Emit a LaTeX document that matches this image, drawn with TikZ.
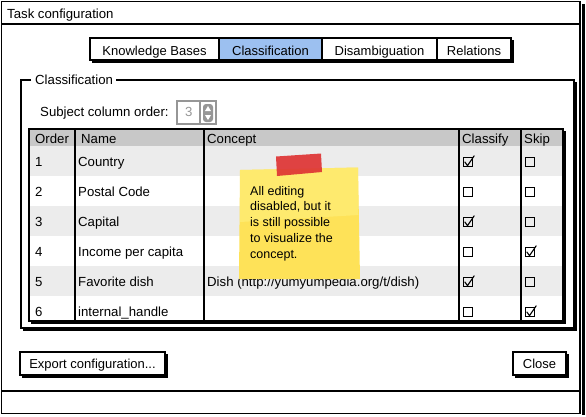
\documentclass[tikz,border=0pt]{standalone}
\usepackage{fontspec}
\setmainfont{Liberation Sans}
\usetikzlibrary{calc}
\definecolor{tabblue}{RGB}{156,192,240}
\definecolor{hdrgray}{RGB}{200,200,200}
\definecolor{rowgray}{RGB}{236,236,236}
\definecolor{spingray}{RGB}{150,150,150}
\definecolor{noteyellow}{RGB}{254,226,88}
\definecolor{notelight}{RGB}{255,238,120}
\definecolor{tapered}{RGB}{222,52,52}
\begin{document}
\begin{tikzpicture}[x=1pt,y=-1pt,
  frame/.style={draw=black,line width=1.3pt},
  shadowline/.style={draw=black,line width=2.4pt},
  lbl/.style={anchor=base west,inner sep=0pt,font=\fontsize{13.2}{15}\selectfont},
  tabbox/.style={draw=black,line width=1.3pt,minimum height=22pt,inner sep=0pt,text height=12pt,text depth=0pt,font=\fontsize{13}{15}\selectfont},
  btn/.style={draw=black,line width=1.3pt,fill=white,minimum height=23pt,inner sep=0pt,text height=9pt,text depth=0pt,font=\fontsize{13}{15}\selectfont},
  cbox/.style={draw=black,line width=0.8pt,minimum size=9.5pt,inner sep=0pt},
  tick/.style={draw=black,line width=1.1pt,line cap=round,line join=round}]
\useasboundingbox (0,0) rectangle (586,416);
\fill[white] (0,0) rectangle (586,416);

% window
\draw[frame] (1.5,1.5) rectangle (580,413.5);
\draw[shadowline] (583.5,4) -- (583.5,415);
\draw[frame] (1.5,24) -- (580,24);
\draw[frame] (1.5,391) -- (580,391);
\node[lbl] (title) at (7,18) {Task configuration};

% tabs
\draw[shadowline] (92,61.5) -- (513,61.5) -- (513,40);
\node[tabbox,fill=white,minimum width=129pt] (tkb) at (154.5,49) {Knowledge Bases};
\node[tabbox,fill=tabblue,minimum width=103pt] (tcls) at (270.5,49) {Classification};
\node[tabbox,fill=white,minimum width=115pt] (tdis) at (379.5,49) {Disambiguation};
\node[tabbox,fill=white,minimum width=74pt] (trel) at (474,49) {Relations};

% group box
\draw[frame] (31,80) -- (21,80) -- (21,328) -- (574,328) -- (574,80) -- (116,80);
\draw[line width=1.2pt] (23,330) -- (576,330) -- (576,82);
\node[lbl] (grp) at (35,84.5) {Classification};

% subject column order
\node[lbl] (sco) at (40,116) {Subject column order:};
\draw[spingray,line width=1.3pt] (177,101) rectangle (216,124);
\draw[spingray,line width=1.3pt] (200,101) -- (200,124);
\node[lbl,text=spingray] (spinval) at (185,116.5) {3};
\fill[spingray,rounded corners=3pt] (203,104) rectangle (213,122);
\fill[white] (205,111) -- (211,111) -- (208,106) -- cycle;
\fill[white] (205,115) -- (211,115) -- (208,120) -- cycle;

% table fills
\fill[hdrgray] (29,129) rectangle (563,146);
\fill[rowgray] (29,146) rectangle (563,176);
\fill[rowgray] (29,206) rectangle (563,236);
\fill[rowgray] (29,266) rectangle (563,296);
\draw[frame] (29,129) rectangle (563,321);
\draw[line width=1.2pt] (31,323) -- (565,323) -- (565,131);
\foreach \cx in {75,204,459,521} \draw[line width=1.5pt] (\cx,129) -- (\cx,321);

% header
\node[lbl] (hord) at (35,143) {Order};
\node[lbl] (hname) at (81,143) {Name};
\node[lbl] (hcon) at (207,143) {Concept};
\node[lbl] (hcls) at (462,143) {Classify};
\node[lbl] (hskip) at (524,143) {Skip};

% rows
\node[lbl] (o1) at (35,166) {1};
\node[lbl] (o2) at (35,196) {2};
\node[lbl] (o3) at (35,226) {3};
\node[lbl] (o4) at (35,256) {4};
\node[lbl] (o5) at (35,286) {5};
\node[lbl] (o6) at (35,316) {6};
\node[lbl] (n1) at (78,166) {Country};
\node[lbl] (n2) at (78,196) {Postal Code};
\node[lbl] (n3) at (78,226) {Capital};
\node[lbl] (n4) at (78,256) {Income per capita};
\node[lbl] (n5) at (78,286) {Favorite dish};
\node[lbl] (n6) at (78,316) {internal\_handle};
\node[lbl] (c5) at (207,286) {Dish (http://yumyumpedia.org/t/dish)};

% checkboxes
\foreach \r/\y/\a/\b in {1/162/1/0,2/192/0/0,3/222/1/0,4/252/0/1,5/282/1/0,6/312/0/1}{
  \node[cbox] (cc\r) at (468,\y) {};
  \node[cbox] (cs\r) at (530,\y) {};
  \ifnum\a=1 \draw[tick] ($(cc\r.west)+(2,0)$) -- ($(cc\r.south)+(-0.5,-1.5)$) -- ($(cc\r.north east)+(1,-1)$); \fi
  \ifnum\b=1 \draw[tick] ($(cs\r.west)+(2,0)$) -- ($(cs\r.south)+(-0.5,-1.5)$) -- ($(cs\r.north east)+(1,-1)$); \fi
}

% sticky note
\fill[noteyellow] (240,170) -- (358,167.5) -- (360,279) -- (239,279) -- cycle;
\fill[notelight,opacity=0.7] (240,170) -- (358,167.5) -- (358.5,215) -- (240,222) -- cycle;
\fill[tapered,opacity=0.92] (276,156.5) -- (321,153.5) -- (322,172) -- (277,176) -- cycle;
\node[anchor=north west,inner sep=0pt,align=left,font=\fontsize{12.5}{15.7}\selectfont] (note) at (250,186) {All editing\\disabled, but it\\is still possible\\to visualize the\\concept.};

% buttons
\draw[shadowline] (22,377) -- (167,377) -- (167,354);
\node[btn,minimum width=145pt] (export) at (92.5,363.5) {Export configuration...};
\draw[shadowline] (515,377) -- (568,377) -- (568,354);
\node[btn,minimum width=53pt] (close) at (539.5,363.5) {Close};
\end{tikzpicture}
\end{document}
